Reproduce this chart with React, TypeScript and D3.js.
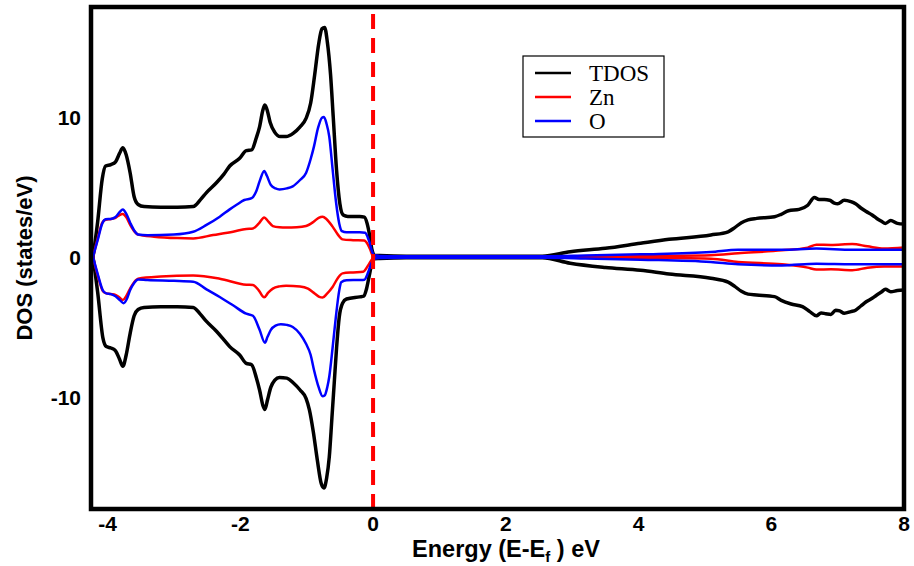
import React, { useEffect, useRef } from "react";
import * as d3 from "d3";

type P = [number, number];

const tdosUp: P[] = [[-4.22,0],[-4.15,2.5],[-4.08,5.6],[-4.03,6.5],[-3.95,6.6],[-3.88,6.8],[-3.82,7.4],[-3.77,7.8],[-3.72,7.3],[-3.66,6.0],[-3.6,4.3],[-3.54,3.75],[-3.45,3.6],[-3.2,3.55],[-2.95,3.55],[-2.71,3.6],[-2.6,4.1],[-2.51,4.6],[-2.36,5.3],[-2.25,5.9],[-2.16,6.5],[-2.01,7.05],[-1.91,7.6],[-1.83,7.65],[-1.76,8.5],[-1.71,9.3],[-1.66,10.5],[-1.63,10.85],[-1.59,10.4],[-1.55,9.6],[-1.48,8.9],[-1.4,8.6],[-1.31,8.6],[-1.2,8.85],[-1.1,9.3],[-1.01,9.9],[-0.94,11],[-0.88,13],[-0.82,15.2],[-0.77,16.3],[-0.73,16.4],[-0.69,15.4],[-0.64,13],[-0.6,10],[-0.55,6.2],[-0.5,3.8],[-0.45,3.0],[-0.38,2.9],[-0.2,2.9],[-0.13,2.85],[-0.09,2.4],[-0.05,1.5],[-0.02,0.6],[0.02,0.12],[0.1,0.1],[0.5,0.05],[1.5,0.05],[2.55,0.05],[2.97,0.38],[3.5,0.62],[4.03,0.98],[4.46,1.26],[5.09,1.57],[5.35,1.8],[5.45,2.1],[5.55,2.45],[5.65,2.65],[5.78,2.76],[6.05,2.88],[6.15,3.05],[6.26,3.3],[6.42,3.4],[6.55,3.7],[6.65,4.25],[6.72,4.1],[6.8,4.1],[6.88,4.05],[6.95,3.85],[7.0,3.8],[7.1,4.05],[7.2,3.95],[7.27,3.8],[7.35,3.5],[7.43,3.25],[7.52,3.0],[7.59,2.75],[7.66,2.55],[7.72,2.4],[7.8,2.6],[7.9,2.4],[8.0,2.35]];

const tdosDown: P[] = [[-4.22,0],[-4.15,-2.5],[-4.07,-5.8],[-4.02,-6.4],[-3.95,-6.5],[-3.88,-6.7],[-3.82,-7.3],[-3.77,-7.8],[-3.72,-7.0],[-3.66,-5.45],[-3.6,-4.2],[-3.54,-3.75],[-3.45,-3.6],[-3.2,-3.55],[-2.95,-3.55],[-2.71,-3.6],[-2.6,-4.1],[-2.51,-4.6],[-2.36,-5.3],[-2.25,-5.9],[-2.16,-6.4],[-2.01,-7.0],[-1.91,-7.6],[-1.83,-7.7],[-1.76,-8.6],[-1.71,-9.5],[-1.66,-10.6],[-1.63,-10.9],[-1.59,-10.2],[-1.54,-9.3],[-1.48,-8.8],[-1.41,-8.6],[-1.3,-8.65],[-1.2,-9.0],[-1.1,-9.5],[-1.01,-10.1],[-0.96,-10.9],[-0.9,-12.5],[-0.84,-14.5],[-0.78,-16.2],[-0.74,-16.5],[-0.7,-15.8],[-0.66,-14.3],[-0.62,-11.5],[-0.585,-9.0],[-0.55,-6.5],[-0.51,-4.3],[-0.46,-3.3],[-0.4,-3.0],[-0.2,-2.85],[-0.14,-2.8],[-0.1,-2.3],[-0.06,-1.4],[-0.02,-0.5],[0.02,-0.12],[0.1,-0.1],[0.5,-0.05],[1.5,-0.05],[2.55,-0.05],[2.97,-0.45],[3.5,-0.75],[4.03,-0.95],[4.46,-1.22],[5.09,-1.52],[5.35,-1.8],[5.45,-2.1],[5.55,-2.45],[5.65,-2.65],[5.78,-2.71],[6.05,-2.83],[6.15,-3.1],[6.3,-3.36],[6.47,-3.55],[6.58,-3.9],[6.68,-4.2],[6.75,-4.0],[6.82,-4.05],[6.9,-4.1],[6.97,-3.8],[7.03,-3.85],[7.1,-4.02],[7.2,-3.9],[7.27,-3.8],[7.35,-3.5],[7.43,-3.2],[7.52,-2.95],[7.59,-2.71],[7.66,-2.5],[7.72,-2.31],[7.8,-2.48],[7.9,-2.4],[8.0,-2.36]];

const znUp: P[] = [[-4.22,0],[-4.15,1.3],[-4.08,2.45],[-4.03,2.66],[-3.95,2.72],[-3.88,2.8],[-3.82,3.0],[-3.77,3.07],[-3.72,2.85],[-3.66,2.3],[-3.6,1.85],[-3.54,1.6],[-3.3,1.45],[-2.95,1.35],[-2.71,1.33],[-2.41,1.57],[-2.11,1.81],[-1.91,2.0],[-1.81,2.04],[-1.72,2.4],[-1.64,2.83],[-1.58,2.55],[-1.51,2.21],[-1.41,2.12],[-1.31,2.1],[-1.15,2.12],[-1.01,2.21],[-0.9,2.5],[-0.82,2.8],[-0.76,2.88],[-0.7,2.7],[-0.61,2.17],[-0.53,1.6],[-0.46,1.26],[-0.3,1.2],[-0.135,1.17],[-0.08,0.9],[-0.04,0.5],[-0.01,0.15],[0.02,0.1],[0.1,0.06],[0.5,0.04],[2.6,0.04],[4.0,0.06],[5.09,0.12],[5.5,0.26],[6.16,0.48],[6.55,0.67],[6.68,0.88],[6.9,0.86],[7.22,0.93],[7.45,0.76],[7.7,0.6],[8,0.67]];

const znDown: P[] = [[-4.22,0],[-4.15,-1.3],[-4.07,-2.45],[-4.02,-2.6],[-3.9,-2.67],[-3.82,-2.9],[-3.77,-3.07],[-3.72,-2.8],[-3.66,-2.26],[-3.6,-1.8],[-3.54,-1.55],[-3.2,-1.4],[-2.71,-1.33],[-2.31,-1.55],[-1.91,-1.98],[-1.81,-2.0],[-1.72,-2.4],[-1.64,-2.88],[-1.58,-2.55],[-1.51,-2.26],[-1.41,-2.1],[-1.31,-2.05],[-1.1,-2.1],[-0.98,-2.26],[-0.88,-2.6],[-0.81,-2.85],[-0.76,-2.9],[-0.7,-2.65],[-0.61,-2.14],[-0.53,-1.5],[-0.46,-1.17],[-0.3,-1.1],[-0.15,-1.05],[-0.06,-0.5],[0.0,-0.1],[0.1,-0.06],[0.5,-0.04],[2.6,-0.04],[4.0,-0.06],[5.09,-0.12],[5.5,-0.36],[6.16,-0.52],[6.55,-0.76],[6.68,-0.9],[6.9,-0.88],[7.22,-0.95],[7.45,-0.76],[7.7,-0.67],[8,-0.67]];

const oUp: P[] = [[-4.22,0],[-4.15,1.2],[-4.08,2.4],[-4.03,2.7],[-3.95,2.72],[-3.88,2.85],[-3.82,3.2],[-3.77,3.4],[-3.72,3.1],[-3.66,2.45],[-3.6,1.9],[-3.54,1.6],[-3.4,1.55],[-3.0,1.6],[-2.71,1.8],[-2.51,2.29],[-2.31,2.88],[-2.16,3.4],[-2.05,3.75],[-1.94,4.07],[-1.83,4.2],[-1.76,4.7],[-1.71,5.4],[-1.64,6.15],[-1.6,5.8],[-1.54,5.14],[-1.47,4.9],[-1.41,4.83],[-1.3,4.9],[-1.21,5.05],[-1.1,5.5],[-1.01,6.0],[-0.94,7.0],[-0.89,7.9],[-0.83,9.2],[-0.77,9.95],[-0.74,10.0],[-0.7,9.5],[-0.66,8.6],[-0.61,6.3],[-0.56,4.0],[-0.51,2.4],[-0.47,1.85],[-0.4,1.76],[-0.2,1.76],[-0.12,1.74],[-0.08,1.4],[-0.05,1.0],[-0.02,0.45],[0.02,0.12],[0.1,0.08],[0.5,0.05],[2.6,0.05],[3.2,0.1],[4.03,0.19],[5.09,0.36],[5.5,0.52],[6.16,0.52],[6.68,0.6],[7.22,0.52],[8.0,0.52]];

const oDown: P[] = [[-4.22,0],[-4.15,-1.2],[-4.07,-2.4],[-4.02,-2.6],[-3.95,-2.65],[-3.88,-2.8],[-3.81,-3.1],[-3.76,-3.3],[-3.71,-3.0],[-3.66,-2.36],[-3.6,-1.85],[-3.54,-1.6],[-3.4,-1.65],[-3.0,-1.7],[-2.71,-1.76],[-2.51,-2.31],[-2.31,-2.86],[-2.11,-3.45],[-1.91,-4.05],[-1.81,-4.2],[-1.71,-5.2],[-1.63,-6.12],[-1.59,-5.7],[-1.54,-5.2],[-1.47,-4.9],[-1.39,-4.8],[-1.3,-4.85],[-1.21,-5.0],[-1.1,-5.5],[-1.01,-6.2],[-0.94,-7.0],[-0.89,-8.07],[-0.82,-9.3],[-0.76,-9.95],[-0.73,-9.9],[-0.69,-9.3],[-0.66,-8.55],[-0.61,-6.5],[-0.56,-4.26],[-0.51,-2.4],[-0.48,-1.8],[-0.4,-1.66],[-0.2,-1.64],[-0.13,-1.62],[-0.09,-1.3],[-0.06,-0.9],[-0.02,-0.4],[0.02,-0.12],[0.1,-0.08],[0.5,-0.05],[2.6,-0.05],[3.2,-0.1],[4.03,-0.19],[5.09,-0.36],[5.5,-0.52],[6.16,-0.6],[6.68,-0.48],[7.22,-0.52],[8,-0.52]];

const xTicks = [-4, -2, 0, 2, 4, 6, 8];
const yTicks = [-10, 0, 10];
const legendNames = ["TDOS", "Zn", "O"];
const legendColors = ["#000000", "#ff0000", "#0000ff"];

export default function App() {
  const ref = useRef<SVGSVGElement | null>(null);

  useEffect(() => {
    const svg = d3.select(ref.current);
    svg.selectAll("*").remove();
    const x = d3.scaleLinear().domain([-4.25, 8]).range([91, 904]);
    const y = d3.scaleLinear().domain([-18, 18]).range([509, 5]);
    const line = d3
      .line<P>()
      .x((d) => x(d[0]))
      .y((d) => y(d[1]))
      .curve(d3.curveMonotoneX);

    svg
      .append("defs")
      .append("clipPath")
      .attr("id", "plotclip")
      .append("rect")
      .attr("x", 91)
      .attr("y", 7)
      .attr("width", 813)
      .attr("height", 502);

    const g = svg.append("g").attr("clip-path", "url(#plotclip)");
    const series: { d: P[]; c: string; w: number }[] = [
      { d: tdosUp, c: "#000", w: 3.5 },
      { d: tdosDown, c: "#000", w: 3.5 },
      { d: znUp, c: "#ff0000", w: 2.5 },
      { d: znDown, c: "#ff0000", w: 2.5 },
      { d: oUp, c: "#0000ff", w: 2.5 },
      { d: oDown, c: "#0000ff", w: 2.5 },
    ];
    series.forEach((s) => {
      g.append("path")
        .attr("d", line(s.d) || "")
        .attr("fill", "none")
        .attr("stroke", s.c)
        .attr("stroke-width", s.w)
        .attr("stroke-linejoin", "round");
    });

    // Fermi level dashed line
    svg
      .append("line")
      .attr("x1", x(0))
      .attr("x2", x(0))
      .attr("y1", 509)
      .attr("y2", 7)
      .attr("stroke", "#ff0000")
      .attr("stroke-width", 4)
      .attr("stroke-dasharray", "15,9");

    // frame
    svg
      .append("rect")
      .attr("x", 91)
      .attr("y", 7)
      .attr("width", 813)
      .attr("height", 502)
      .attr("fill", "none")
      .attr("stroke", "#000")
      .attr("stroke-width", 4.5);

    // x tick labels
    svg
      .append("g")
      .selectAll("text")
      .data(xTicks)
      .join("text")
      .attr("x", (d) => x(d))
      .attr("y", 531)
      .attr("text-anchor", "middle")
      .attr("font-family", "Liberation Sans, Arial, sans-serif")
      .attr("font-weight", "bold")
      .attr("font-size", 21)
      .text((d) => String(d));

    // y tick labels
    svg
      .append("g")
      .selectAll("text")
      .data(yTicks)
      .join("text")
      .attr("x", 81)
      .attr("y", (d) => y(d) + 7.5)
      .attr("text-anchor", "end")
      .attr("font-family", "Liberation Sans, Arial, sans-serif")
      .attr("font-weight", "bold")
      .attr("font-size", 21)
      .text((d) => String(d));

    // x label
    const xl = svg
      .append("text")
      .attr("x", 506)
      .attr("y", 557)
      .attr("text-anchor", "middle")
      .attr("font-family", "Liberation Sans, Arial, sans-serif")
      .attr("font-weight", "bold")
      .attr("font-size", 23.5);
    xl.append("tspan").text("Energy (E-E");
    xl.append("tspan").attr("font-size", 15).attr("dy", 5).text("f");
    xl.append("tspan").attr("dy", -5).text("  ) eV");

    // y label
    svg
      .append("text")
      .attr("transform", "translate(32,258) rotate(-90)")
      .attr("text-anchor", "middle")
      .attr("font-family", "Liberation Sans, Arial, sans-serif")
      .attr("font-weight", "bold")
      .attr("font-size", 22)
      .text("DOS (states/eV)");

    // legend
    const lg = svg.append("g");
    lg.append("rect")
      .attr("x", 523)
      .attr("y", 56)
      .attr("width", 141)
      .attr("height", 81)
      .attr("fill", "#fff")
      .attr("stroke", "#000")
      .attr("stroke-width", 1.2);
    legendNames.forEach((n, i) => {
      const ly = 73 + i * 24;
      lg.append("line")
        .attr("x1", 535)
        .attr("x2", 571)
        .attr("y1", ly)
        .attr("y2", ly)
        .attr("stroke", legendColors[i])
        .attr("stroke-width", 2.5);
      lg.append("text")
        .attr("x", 589)
        .attr("y", ly + 8)
        .attr("font-family", "Liberation Serif, Times New Roman, serif")
        .attr("font-size", 23)
        .text(n);
    });
  }, []);

  return (
    <svg
      ref={ref}
      width={914}
      height={566}
      style={{ position: "absolute", left: 0, top: 0, background: "#fff" }}
    />
  );
}
